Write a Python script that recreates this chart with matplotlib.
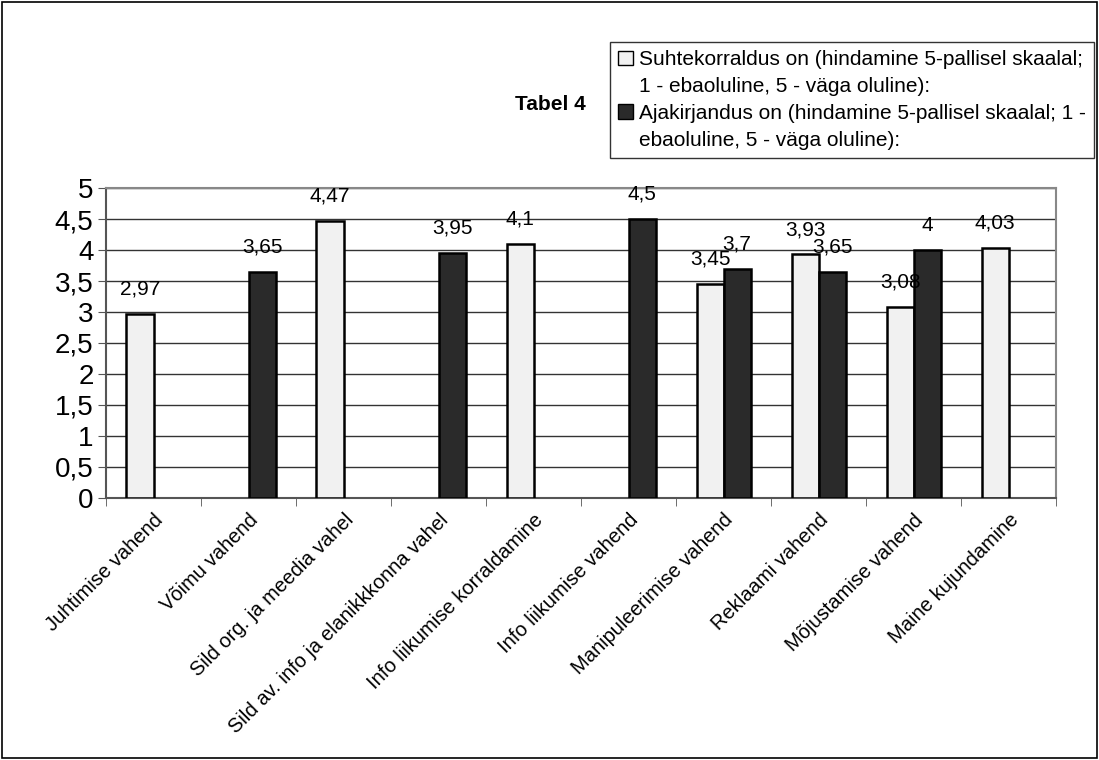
import matplotlib.pyplot as plt
import numpy as np
from matplotlib.patches import Rectangle

plt.rcParams['font.family'] = ['Liberation Sans', 'DejaVu Sans']

# --- andmed ---
kategooriad = [
    'Juhtimise vahend', 'Võimu vahend', 'Sild org. ja meedia vahel',
    'Sild av. info ja elanikkkonna vahel', 'Info liikumise korraldamine',
    'Info liikumise vahend', 'Manipuleerimise vahend', 'Reklaami vahend',
    'Mõjustamise vahend', 'Maine kujundamine'
]
suhtekorraldus = [2.97, np.nan, 4.47, np.nan, 4.1, np.nan, 3.45, 3.93, 3.08, 4.03]
ajakirjandus = [np.nan, 3.65, np.nan, 3.95, np.nan, 4.5, 3.7, 3.65, 4, np.nan]
silt_suhtekorraldus = ['Suhtekorraldus on (hindamine 5-pallisel skaalal;',
                       '1 - ebaoluline, 5 - väga oluline):']
silt_ajakirjandus = ['Ajakirjandus on (hindamine 5-pallisel skaalal; 1 -',
                     'ebaoluline, 5 - väga oluline):']


def fmt(v):
    s = ('%.2f' % v).rstrip('0').rstrip('.')
    return s.replace('.', ',')


fig = plt.figure(figsize=(10.99, 7.60), dpi=100)
ax = fig.add_axes([0.0965, 0.345, 0.8645, 0.4075])

x = np.arange(len(kategooriad))
w = 0.285

b1 = ax.bar(x - w / 2, suhtekorraldus, w, color='#f1f1f1', edgecolor='black',
            linewidth=1.8, zorder=3)
b2 = ax.bar(x + w / 2, ajakirjandus, w, color='#2a2a2a', edgecolor='black',
            linewidth=1.8, zorder=3)

for xs, vals in [(x - w / 2, suhtekorraldus), (x + w / 2, ajakirjandus)]:
    for xi, v in zip(xs, vals):
        if np.isnan(v):
            continue
        ax.annotate(fmt(v), (xi, v), xytext=(0, 11), textcoords='offset points',
                    ha='center', va='bottom', fontsize=15)

ax.set_xlim(-0.5, len(kategooriad) - 0.5)
ax.set_ylim(0, 5)
yt = np.arange(0, 5.01, 0.5)
ax.set_yticks(yt)
ax.set_yticklabels([fmt(v) for v in yt], fontsize=20)
ax.yaxis.grid(True, color='#333333', linewidth=1.0, zorder=0)

ax.set_xticks(x)
ax.set_xticklabels(kategooriad, rotation=45, ha='right', rotation_mode='anchor', fontsize=14.5)
ax.tick_params(axis='x', length=0, pad=9)
ax.set_xticks(np.arange(-0.5, len(kategooriad)), minor=True)
ax.tick_params(axis='x', which='minor', length=6, color='#555555')
ax.tick_params(axis='y', length=6, color='#555555', pad=3)

for s in ['top', 'right']:
    ax.spines[s].set_color('#888888')
    ax.spines[s].set_linewidth(1.5)
for s in ['left', 'bottom']:
    ax.spines[s].set_color('#555555')
    ax.spines[s].set_linewidth(1.5)

# legend: handle only on the first line of each entry
h1 = Rectangle((0, 0), 1, 1, facecolor='#f1f1f1', edgecolor='black', linewidth=1.0)
h2 = Rectangle((0, 0), 1, 1, facecolor='#2a2a2a', edgecolor='black', linewidth=1.0)
tyhi = Rectangle((0, 0), 1, 1, fill=False, edgecolor='none')
leg = fig.legend(handles=[h1, tyhi, h2, tyhi],
                 labels=silt_suhtekorraldus + silt_ajakirjandus,
                 loc='upper left', bbox_to_anchor=(0.555, 0.945),
                 fontsize=15, frameon=True, fancybox=False, edgecolor='black',
                 handlelength=0.7, handleheight=0.7, handletextpad=0.3,
                 borderpad=0.4, labelspacing=0.38, borderaxespad=0)
leg.get_frame().set_linewidth(1.0)

fig.text(0.501, 0.862, 'Tabel 4', fontsize=15, fontweight='bold', ha='center', va='center')

fig.patches.append(Rectangle((0.002, 0.002), 0.996, 0.996, transform=fig.transFigure,
                             fill=False, edgecolor='black', linewidth=1.2))

fig.savefig('out.png', dpi=100)
